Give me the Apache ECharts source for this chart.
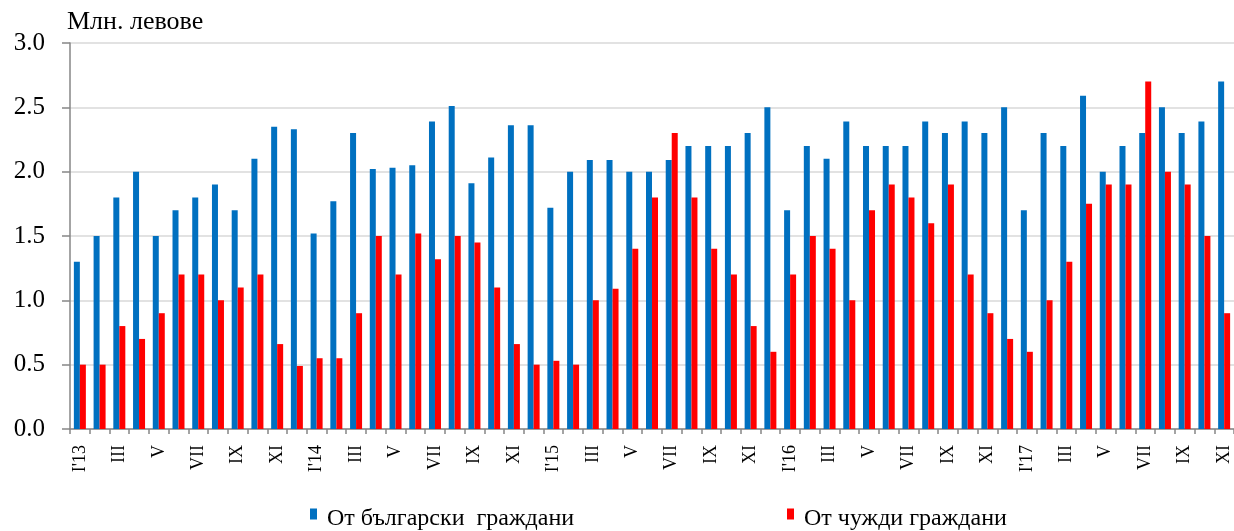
<!DOCTYPE html>
<html>
<head>
<meta charset="utf-8">
<script src="https://cdn.jsdelivr.net/npm/echarts@6/dist/echarts.min.js"></script>
<style>html,body{margin:0;padding:0;background:#fff}#c{width:1234px;height:531px}</style>
</head>
<body>
<div id="c"></div>
<script>
const months = ['I','II','III','IV','V','VI','VII','VIII','IX','X','XI','XII'];
const years = ['13','14','15','16','17'];
const categories = [];
for (let y = 0; y < years.length; y++) {
  for (let m = 0; m < 12; m++) {
    if (y === 4 && m > 10) break;
    categories.push(m === 0 ? "I'" + years[y] : months[m]);
  }
}
const bulgarian = [
  1.30, 1.50, 1.80, 2.00, 1.50, 1.70, 1.80, 1.90, 1.70, 2.10, 2.35, 2.33,
  1.52, 1.77, 2.30, 2.02, 2.03, 2.05, 2.39, 2.51, 1.91, 2.11, 2.36, 2.36,
  1.72, 2.00, 2.09, 2.09, 2.00, 2.00, 2.09, 2.20, 2.20, 2.20, 2.30, 2.50,
  1.70, 2.20, 2.10, 2.39, 2.20, 2.20, 2.20, 2.39, 2.30, 2.39, 2.30, 2.50,
  1.70, 2.30, 2.20, 2.59, 2.00, 2.20, 2.30, 2.50, 2.30, 2.39, 2.70
];
const foreign = [
  0.50, 0.50, 0.80, 0.70, 0.90, 1.20, 1.20, 1.00, 1.10, 1.20, 0.66, 0.49,
  0.55, 0.55, 0.90, 1.50, 1.20, 1.52, 1.32, 1.50, 1.45, 1.10, 0.66, 0.50,
  0.53, 0.50, 1.00, 1.09, 1.40, 1.80, 2.30, 1.80, 1.40, 1.20, 0.80, 0.60,
  1.20, 1.50, 1.40, 1.00, 1.70, 1.90, 1.80, 1.60, 1.90, 1.20, 0.90, 0.70,
  0.60, 1.00, 1.30, 1.75, 1.90, 1.90, 2.70, 2.00, 1.90, 1.50, 0.90
];
const seriesNames = ['От български  граждани', 'От чужди граждани'];
const yTitle = 'Млн. левове';

const font = 'Liberation Serif';
// legend marker: 7x11 square drawn in the top part of a 7x21 icon box
const legendIcon = 'path://M0,0L7,0L7,11L0,11Z M0,21L0.01,21';
const legendText = {fontFamily: font, fontSize: 24, color: '#000', padding: [0, 0, 0, 5]};
const chart = echarts.init(document.getElementById('c'), null, {renderer: 'canvas'});
chart.setOption({
  animation: false,
  backgroundColor: '#ffffff',
  textStyle: {fontFamily: font},
  graphic: [{
    type: 'text', left: 67, top: 9,
    style: {text: yTitle, fontSize: 26, fontFamily: font, fill: '#000'}
  }],
  legend: [{
    data: [seriesNames[0]], left: 310, top: 507, padding: 0,
    icon: legendIcon, itemWidth: 7, itemHeight: 21, itemGap: 4,
    textStyle: legendText
  }, {
    data: [seriesNames[1]], left: 787, top: 507, padding: 0,
    icon: legendIcon, itemWidth: 7, itemHeight: 21, itemGap: 4,
    textStyle: legendText
  }],
  grid: {left: 70, top: 43, width: 1166, height: 386, containLabel: false},
  xAxis: {
    type: 'category', data: categories, boundaryGap: true,
    axisLine: {lineStyle: {color: '#868686', width: 1.5}},
    axisTick: {show: true, interval: 0, length: 5, lineStyle: {color: '#868686', width: 1.5}},
    axisLabel: {interval: 1, rotate: 90, margin: 16, fontFamily: font, fontSize: 18, color: '#000'},
    splitLine: {show: false}
  },
  yAxis: {
    type: 'value', min: 0, max: 3, interval: 0.5,
    axisLine: {show: true, lineStyle: {color: '#868686', width: 1.5}},
    axisTick: {show: true, length: 8, lineStyle: {color: '#868686', width: 1.5}},
    axisLabel: {margin: 25, fontFamily: font, fontSize: 25, color: '#000',
      formatter: v => v.toFixed(1)},
    splitLine: {lineStyle: {color: '#d9d9d9', width: 1.5}}
  },
  series: [{
    name: seriesNames[0], type: 'bar', data: bulgarian, barWidth: 6, barGap: '0%',
    itemStyle: {color: '#0070C0'}
  }, {
    name: seriesNames[1], type: 'bar', data: foreign, barWidth: 6, barGap: '0%',
    itemStyle: {color: '#FF0000'}
  }]
});
</script>
</body>
</html>
